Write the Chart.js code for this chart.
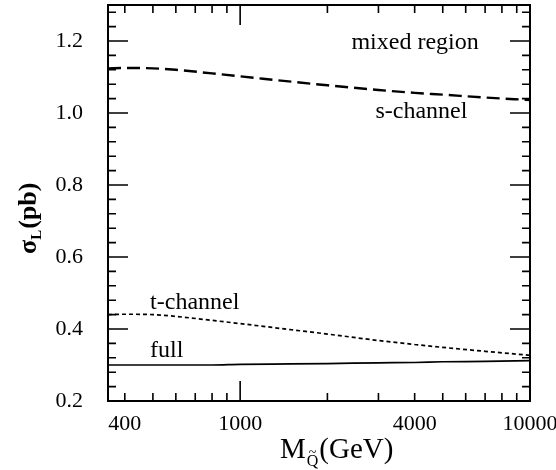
<!DOCTYPE html>
<html>
<head>
<meta charset="utf-8">
<script src="https://cdn.jsdelivr.net/npm/chart.js@4/dist/chart.umd.min.js"></script>
<style>
  body { margin: 0; background: #fff; }
</style>
</head>
<body>
<canvas id="myChart" width="556" height="470"></canvas>
<script>
// squark mass (GeV) and cross sections (pb)
const masses = [350, 400, 500, 600, 800, 1000, 1500, 2000, 3000, 4000, 5000, 7000, 10000];
const sChannel = [1.124, 1.125, 1.124, 1.120, 1.110, 1.102, 1.087, 1.077, 1.064, 1.056, 1.051, 1.043, 1.036];
const tChannel = [0.440, 0.441, 0.440, 0.435, 0.424, 0.415, 0.398, 0.386, 0.368, 0.357, 0.349, 0.338, 0.327];
const full = [0.300, 0.300, 0.300, 0.300, 0.300, 0.302, 0.303, 0.304, 0.306, 0.307, 0.309, 0.310, 0.312];

const xTickLabels = [400, 1000, 4000, 10000];
const xMajorTicks = [1000, 10000];
const xMinorTicks = [400, 500, 600, 700, 800, 900, 2000, 3000, 4000, 5000, 6000, 7000, 8000, 9000];
const yTickLabels = [0.2, 0.4, 0.6, 0.8, 1.0, 1.2];

const notes = [
    { text: 'mixed region', x: 2420, y: 1.178 },
    { text: 's-channel', x: 2930, y: 0.987 },
    { text: 't-channel', x: 489, y: 0.456 },
    { text: 'full', x: 489, y: 0.322 }
];

const serif = '"Liberation Serif", "DejaVu Serif", serif';

function toPoints(ys) {
    return masses.map((m, i) => ({ x: m, y: ys[i] }));
}

const framePlugin = {
    id: 'frame',
    afterDraw(chart) {
        const ctx = chart.ctx;
        const a = chart.chartArea;
        const xs = chart.scales.x;
        const ys = chart.scales.y;
        ctx.save();
        ctx.strokeStyle = '#000';
        ctx.lineWidth = 2;
        ctx.strokeRect(a.left, a.top, a.right - a.left, a.bottom - a.top);

        // inner ticks on all four sides
        ctx.lineWidth = 1.6;
        ctx.beginPath();
        const xTick = (v, len) => {
            const p = xs.getPixelForValue(v);
            ctx.moveTo(p, a.bottom); ctx.lineTo(p, a.bottom - len);
            ctx.moveTo(p, a.top); ctx.lineTo(p, a.top + len);
        };
        xMinorTicks.forEach(v => xTick(v, 8));
        xMajorTicks.forEach(v => xTick(v, 20));
        for (let i = 0; i <= 27; i++) {
            const v = 0.2 + i * 0.04;
            const major = Math.abs((v - 0.2) / 0.2 - Math.round((v - 0.2) / 0.2)) < 1e-6;
            const len = major ? 20 : 8;
            const p = ys.getPixelForValue(v);
            ctx.moveTo(a.left, p); ctx.lineTo(a.left + len, p);
            ctx.moveTo(a.right, p); ctx.lineTo(a.right - len, p);
        }
        ctx.stroke();

        // curve labels
        ctx.fillStyle = '#000';
        ctx.font = '24px ' + serif;
        ctx.textAlign = 'left';
        ctx.textBaseline = 'alphabetic';
        notes.forEach(n => {
            ctx.fillText(n.text, xs.getPixelForValue(n.x), ys.getPixelForValue(n.y));
        });

        // x title: M_Q~(GeV)
        let x = 280, base = 458;
        ctx.font = '29px ' + serif;
        ctx.fillText('M', x, base);
        x += ctx.measureText('M').width + 1;
        ctx.font = '16px ' + serif;
        ctx.fillText('Q', x, base + 8);
        const qw = ctx.measureText('Q').width;
        ctx.font = '14px ' + serif;
        ctx.textAlign = 'center';
        ctx.fillText('~', x + qw / 2, base - 1);
        ctx.textAlign = 'left';
        x += qw + 1;
        ctx.font = '29px ' + serif;
        ctx.fillText('(GeV)', x, base);

        // y title: sigma_L (pb), rotated
        ctx.translate(36, 254);
        ctx.rotate(-Math.PI / 2);
        let t = 0;
        ctx.font = 'bold 26px ' + serif;
        ctx.fillText('σ', t, 0);
        t += ctx.measureText('σ').width;
        ctx.font = 'bold 15px ' + serif;
        ctx.fillText('L', t, 5);
        t += ctx.measureText('L').width + 1;
        ctx.font = 'bold 26px ' + serif;
        ctx.fillText('(pb)', t, 0);
        ctx.restore();
    }
};

const data = {
    datasets: [
        { label: 's-channel', data: toPoints(sChannel), borderColor: '#000', borderWidth: 2.4, borderDash: [13, 6] },
        { label: 't-channel', data: toPoints(tChannel), borderColor: '#000', borderWidth: 1.7, borderDash: [4, 3] },
        { label: 'full', data: toPoints(full), borderColor: '#000', borderWidth: 1.7 }
    ]
};

const config = {
    type: 'line',
    data: data,
    options: {
        responsive: false,
        animation: false,
        events: [],
        layout: { padding: { top: 5, right: 26, left: 0, bottom: 0 } },
        elements: { point: { radius: 0 }, line: { cubicInterpolationMode: 'monotone', fill: false } },
        plugins: { legend: { display: false }, tooltip: { enabled: false } },
        scales: {
            x: {
                type: 'logarithmic',
                min: 350,
                max: 10000,
                afterBuildTicks: scale => { scale.ticks = xTickLabels.map(v => ({ value: v })); },
                afterFit: scale => {
                    scale.height = 69;
                    scale.paddingLeft = 0;
                    scale.paddingRight = 0;
                },
                grid: { display: false, drawTicks: false },
                border: { display: false },
                ticks: {
                    autoSkip: false,
                    maxRotation: 0,
                    padding: 10,
                    color: '#000',
                    font: { family: serif, size: 22 },
                    callback: v => String(v)
                }
            },
            y: {
                type: 'linear',
                min: 0.2,
                max: 1.3,
                afterBuildTicks: scale => { scale.ticks = yTickLabels.map(v => ({ value: v })); },
                afterFit: scale => {
                    scale.width = 108;
                    scale.paddingTop = 0;
                    scale.paddingBottom = 0;
                },
                grid: { display: false, drawTicks: false },
                border: { display: false },
                ticks: {
                    padding: 25,
                    color: '#000',
                    font: { family: serif, size: 22 },
                    callback: v => Number(v).toFixed(1)
                }
            }
        }
    },
    plugins: [framePlugin]
};

new Chart(document.getElementById('myChart'), config);
</script>
</body>
</html>
